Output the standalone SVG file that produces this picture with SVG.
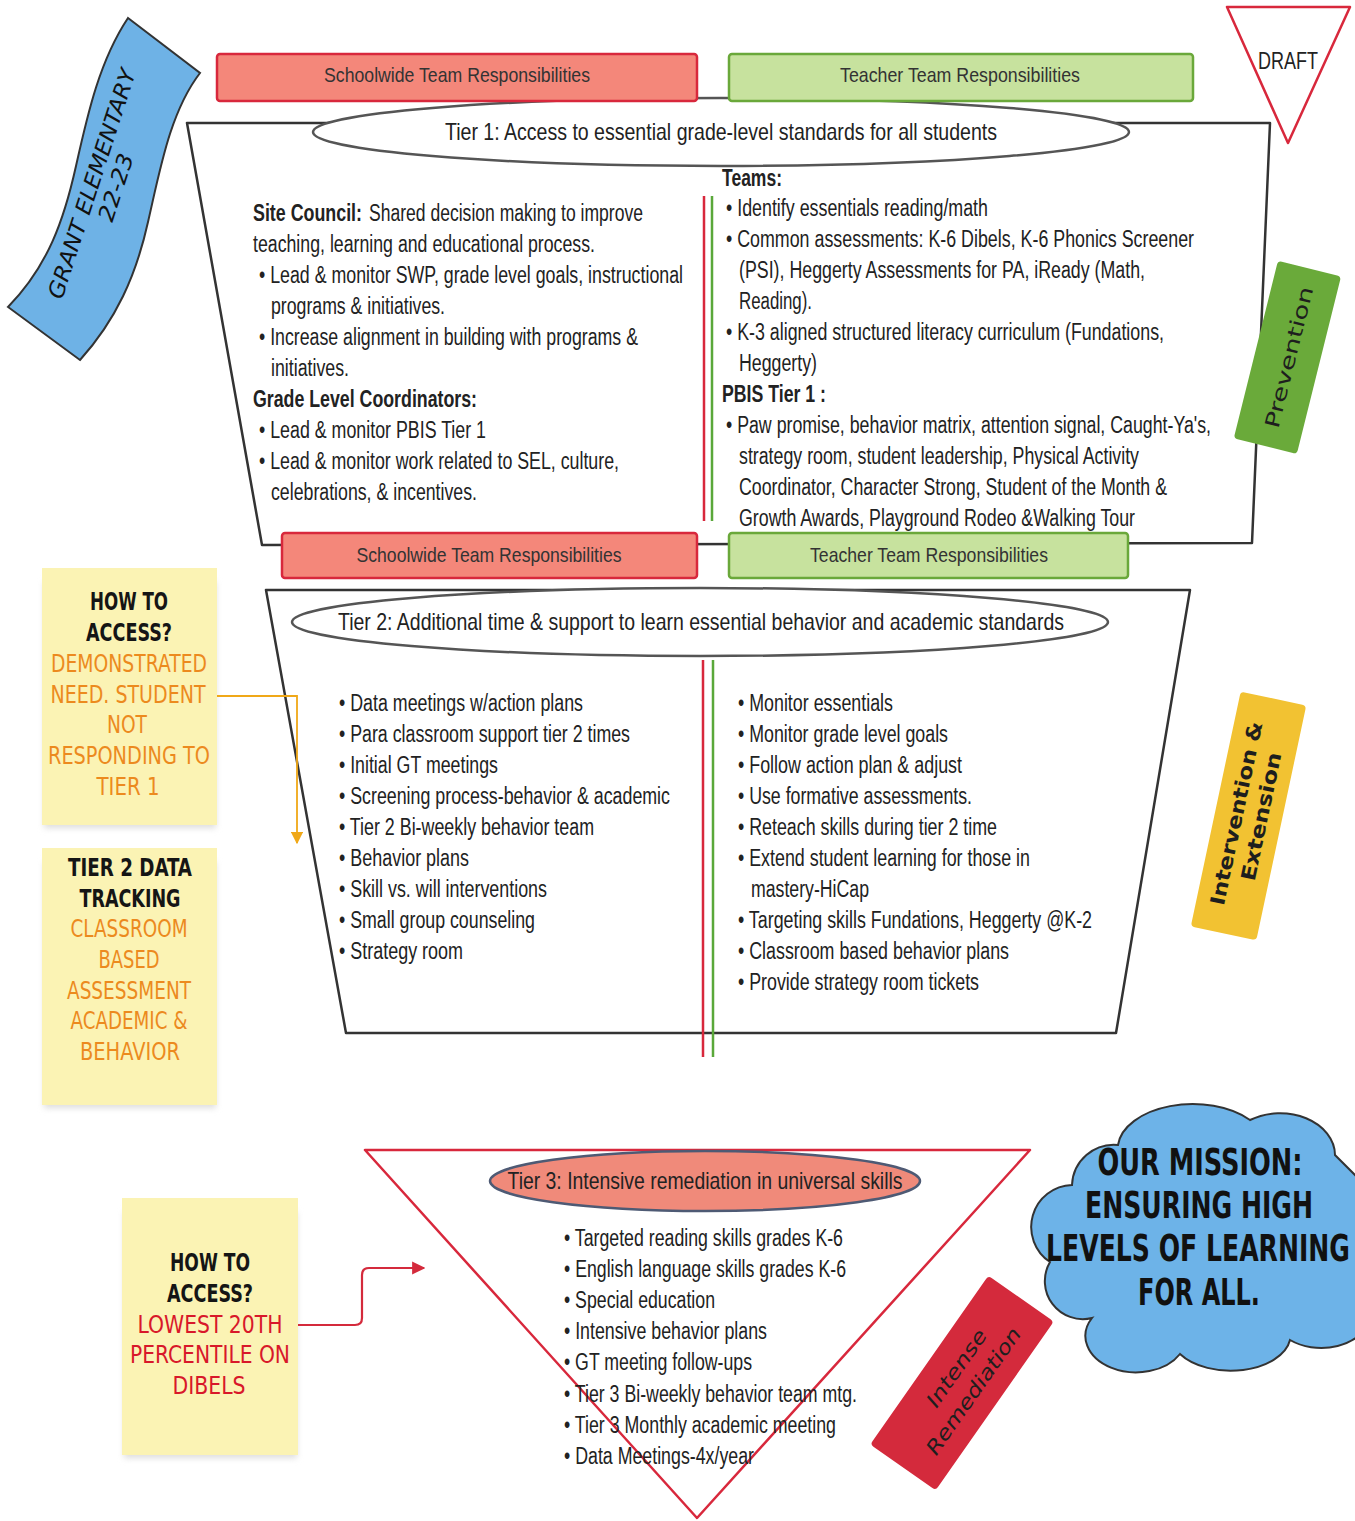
<svg xmlns="http://www.w3.org/2000/svg" width="1355" height="1521" viewBox="0 0 1355 1521">
<defs>
<style>
.t{font-family:"Liberation Sans",Arial,sans-serif;font-size:23px;fill:#222}
.bd{font-weight:bold}
.hd{font-size:24px;text-anchor:middle}
.ban{font-size:21px;text-anchor:middle;fill:#333}
.stk{font-family:"DejaVu Sans Condensed","DejaVu Sans",sans-serif;font-size:25px;font-weight:bold;text-anchor:middle}
.blk{fill:#151515}
.org{fill:#ec8a1e;font-weight:normal}
.rd{fill:#d8182a;font-weight:normal}
.tag{font-family:"DejaVu Sans",Verdana,sans-serif;font-size:20px;fill:#1e1e1e;text-anchor:middle}
.frame{fill:#fff;stroke:#333;stroke-width:2.5;stroke-linejoin:round}
.ell{fill:#fff;stroke:#555;stroke-width:2.5}
.redb{fill:#f4877a;stroke:#d8283c;stroke-width:2.5}
.grnb{fill:#c7e29e;stroke:#6aa83a;stroke-width:2.5}
.note{fill:#fbf3b4}
.vr{stroke:#d8283c;stroke-width:2.5}
.vg{stroke:#5aa83a;stroke-width:2.5}
</style>
<filter id="sh" x="-10%" y="-10%" width="120%" height="130%"><feGaussianBlur stdDeviation="3"/></filter>
<marker id="aO" viewBox="0 0 10 10" refX="9" refY="5" markerWidth="7" markerHeight="7" orient="auto"><path d="M0,0 L10,5 L0,10 Z" fill="#f0a818"/></marker>
<marker id="aR" viewBox="0 0 10 10" refX="9" refY="5" markerWidth="6" markerHeight="6" orient="auto"><path d="M0,0 L10,5 L0,10 Z" fill="#d42a3c"/></marker>
</defs>
<rect width="1355" height="1521" fill="#fff"/>

<g id="grant-banner">
<path d="M128,18 L200,73 C170,112 160,170 148,222 C136,276 116,320 80,360 L8,307 C48,266 64,220 76,166 C88,112 100,60 128,18 Z" fill="#6eb2e6" stroke="#333" stroke-width="2"/>
<g transform="translate(99,186) rotate(-72)" font-family="DejaVu Sans Condensed,DejaVu Sans,sans-serif" font-style="italic" font-size="22" fill="#111" text-anchor="middle">
<text x="0" y="0" textLength="240" lengthAdjust="spacingAndGlyphs">GRANT ELEMENTARY</text>
<text x="4" y="24" textLength="70" lengthAdjust="spacingAndGlyphs">22-23</text>
</g>
</g>

<g id="draft">
<path d="M1227,7 L1350,7 L1288,143 Z" fill="#fff" stroke="#d8283c" stroke-width="2.5" stroke-linejoin="round"/>
<text class="t" x="1288" y="69" text-anchor="middle" font-size="22" textLength="60" lengthAdjust="spacingAndGlyphs">DRAFT</text>
</g>

<g id="tier1">
<path class="frame" d="M187,123 L1270,123 L1252,543 L262,545 Z"/>
<ellipse class="ell" cx="721" cy="132" rx="408" ry="34"/>
<text class="t hd" x="721" y="140" textLength="552" lengthAdjust="spacingAndGlyphs">Tier 1: Access to essential grade-level standards for all students</text>
<line class="vr" x1="704" y1="196" x2="704" y2="521"/>
<line class="vg" x1="712" y1="196" x2="712" y2="521"/>
<text class="t bd" x="253" y="221" textLength="109" lengthAdjust="spacingAndGlyphs">Site Council:</text>
<text class="t" x="369" y="221" textLength="274" lengthAdjust="spacingAndGlyphs">Shared decision making to improve</text>
<text class="t" x="253" y="252" textLength="342" lengthAdjust="spacingAndGlyphs">teaching, learning and educational process.</text>
<text class="t" x="259" y="283" textLength="424" lengthAdjust="spacingAndGlyphs">• Lead &amp; monitor SWP, grade level goals, instructional</text>
<text class="t" x="271" y="314" textLength="174" lengthAdjust="spacingAndGlyphs">programs &amp; initiatives.</text>
<text class="t" x="259" y="345" textLength="379" lengthAdjust="spacingAndGlyphs">• Increase alignment in building with programs &amp;</text>
<text class="t" x="271" y="376" textLength="78" lengthAdjust="spacingAndGlyphs">initiatives.</text>
<text class="t bd" x="253" y="407" textLength="224" lengthAdjust="spacingAndGlyphs">Grade Level Coordinators:</text>
<text class="t" x="259" y="438" textLength="227" lengthAdjust="spacingAndGlyphs">• Lead &amp; monitor PBIS Tier 1</text>
<text class="t" x="259" y="469" textLength="360" lengthAdjust="spacingAndGlyphs">• Lead &amp; monitor work related to SEL, culture,</text>
<text class="t" x="271" y="500" textLength="206" lengthAdjust="spacingAndGlyphs">celebrations, &amp; incentives.</text>
<text class="t bd" x="722" y="186" textLength="60" lengthAdjust="spacingAndGlyphs">Teams:</text>
<text class="t" x="726" y="216" textLength="262" lengthAdjust="spacingAndGlyphs">• Identify essentials reading/math</text>
<text class="t" x="726" y="247" textLength="468" lengthAdjust="spacingAndGlyphs">• Common assessments: K-6 Dibels, K-6 Phonics Screener</text>
<text class="t" x="739" y="278" textLength="406" lengthAdjust="spacingAndGlyphs">(PSI), Heggerty Assessments for PA, iReady (Math,</text>
<text class="t" x="739" y="309" textLength="73" lengthAdjust="spacingAndGlyphs">Reading).</text>
<text class="t" x="726" y="340" textLength="438" lengthAdjust="spacingAndGlyphs">• K-3 aligned structured literacy curriculum (Fundations,</text>
<text class="t" x="739" y="371" textLength="78" lengthAdjust="spacingAndGlyphs">Heggerty)</text>
<text class="t bd" x="722" y="402" textLength="104" lengthAdjust="spacingAndGlyphs">PBIS Tier 1 :</text>
<text class="t" x="726" y="433" textLength="485" lengthAdjust="spacingAndGlyphs">• Paw promise, behavior matrix, attention signal, Caught-Ya's,</text>
<text class="t" x="739" y="464" textLength="400" lengthAdjust="spacingAndGlyphs">strategy room, student leadership, Physical Activity</text>
<text class="t" x="739" y="495" textLength="428" lengthAdjust="spacingAndGlyphs">Coordinator, Character Strong, Student of the Month &amp;</text>
<text class="t" x="739" y="526" textLength="396" lengthAdjust="spacingAndGlyphs">Growth Awards, Playground Rodeo &amp;Walking Tour</text>
</g>

<g id="banners-top">
<rect class="redb" x="217" y="54" width="480" height="47" rx="3"/>
<text class="t ban" x="457" y="82" textLength="266" lengthAdjust="spacingAndGlyphs">Schoolwide Team Responsibilities</text>
<rect class="grnb" x="729" y="54" width="464" height="47" rx="3"/>
<text class="t ban" x="960" y="82" textLength="240" lengthAdjust="spacingAndGlyphs">Teacher Team Responsibilities</text>
</g>

<g id="tier2">
<path class="frame" d="M266,590 L1190,590 L1116,1033 L346,1033 Z"/>
<ellipse class="ell" cx="700" cy="622" rx="408" ry="34"/>
<text class="t hd" x="701" y="630" textLength="726" lengthAdjust="spacingAndGlyphs">Tier 2: Additional time &amp; support to learn essential behavior and academic standards</text>
<line class="vr" x1="703" y1="660" x2="703" y2="1057"/>
<line class="vg" x1="713" y1="660" x2="713" y2="1057"/>
<text class="t" x="339" y="711" textLength="244" lengthAdjust="spacingAndGlyphs">• Data meetings w/action plans</text>
<text class="t" x="339" y="742" textLength="291" lengthAdjust="spacingAndGlyphs">• Para classroom support tier 2 times</text>
<text class="t" x="339" y="773" textLength="159" lengthAdjust="spacingAndGlyphs">• Initial GT meetings</text>
<text class="t" x="339" y="804" textLength="331" lengthAdjust="spacingAndGlyphs">• Screening process-behavior &amp; academic</text>
<text class="t" x="339" y="835" textLength="255" lengthAdjust="spacingAndGlyphs">• Tier 2 Bi-weekly behavior team</text>
<text class="t" x="339" y="866" textLength="130" lengthAdjust="spacingAndGlyphs">• Behavior plans</text>
<text class="t" x="339" y="897" textLength="208" lengthAdjust="spacingAndGlyphs">• Skill vs. will interventions</text>
<text class="t" x="339" y="928" textLength="196" lengthAdjust="spacingAndGlyphs">• Small group counseling</text>
<text class="t" x="339" y="959" textLength="124" lengthAdjust="spacingAndGlyphs">• Strategy room</text>
<text class="t" x="738" y="711" textLength="155" lengthAdjust="spacingAndGlyphs">• Monitor essentials</text>
<text class="t" x="738" y="742" textLength="210" lengthAdjust="spacingAndGlyphs">• Monitor grade level goals</text>
<text class="t" x="738" y="773" textLength="224" lengthAdjust="spacingAndGlyphs">• Follow action plan &amp; adjust</text>
<text class="t" x="738" y="804" textLength="234" lengthAdjust="spacingAndGlyphs">• Use formative assessments.</text>
<text class="t" x="738" y="835" textLength="259" lengthAdjust="spacingAndGlyphs">• Reteach skills during tier 2 time</text>
<text class="t" x="738" y="866" textLength="292" lengthAdjust="spacingAndGlyphs">• Extend student learning for those in</text>
<text class="t" x="751" y="897" textLength="118" lengthAdjust="spacingAndGlyphs">mastery-HiCap</text>
<text class="t" x="738" y="928" textLength="354" lengthAdjust="spacingAndGlyphs">• Targeting skills Fundations, Heggerty @K-2</text>
<text class="t" x="738" y="959" textLength="271" lengthAdjust="spacingAndGlyphs">• Classroom based behavior plans</text>
<text class="t" x="738" y="990" textLength="241" lengthAdjust="spacingAndGlyphs">• Provide strategy room tickets</text>
</g>

<g id="banners-mid">
<rect class="redb" x="282" y="533" width="415" height="45" rx="3"/>
<text class="t ban" x="489" y="562" textLength="265" lengthAdjust="spacingAndGlyphs">Schoolwide Team Responsibilities</text>
<rect class="grnb" x="729" y="533" width="399" height="45" rx="3"/>
<text class="t ban" x="929" y="562" textLength="238" lengthAdjust="spacingAndGlyphs">Teacher Team Responsibilities</text>
</g>

<g id="tier3">
<path d="M365,1150 L1030,1150 L697,1518 Z" fill="none" stroke="#d8283c" stroke-width="2.5" stroke-linejoin="round"/>
<ellipse cx="705" cy="1181" rx="215" ry="30" fill="#f08a7a" stroke="#4e5a74" stroke-width="2.5"/>
<text class="t hd" x="705" y="1189" textLength="395" lengthAdjust="spacingAndGlyphs">Tier 3: Intensive remediation in universal skills</text>
<text class="t" x="564" y="1246" textLength="279" lengthAdjust="spacingAndGlyphs">• Targeted reading skills grades K-6</text>
<text class="t" x="564" y="1277" textLength="282" lengthAdjust="spacingAndGlyphs">• English language skills grades K-6</text>
<text class="t" x="564" y="1308" textLength="151" lengthAdjust="spacingAndGlyphs">• Special education</text>
<text class="t" x="564" y="1339" textLength="203" lengthAdjust="spacingAndGlyphs">• Intensive behavior plans</text>
<text class="t" x="564" y="1370" textLength="188" lengthAdjust="spacingAndGlyphs">• GT meeting follow-ups</text>
<text class="t" x="564" y="1402" textLength="293" lengthAdjust="spacingAndGlyphs">• Tier 3 Bi-weekly behavior team mtg.</text>
<text class="t" x="564" y="1433" textLength="272" lengthAdjust="spacingAndGlyphs">• Tier 3 Monthly academic meeting</text>
<text class="t" x="564" y="1464" textLength="190" lengthAdjust="spacingAndGlyphs">• Data Meetings-4x/year</text>
</g>

<g id="note-access-t2">
<rect x="44" y="582" width="172" height="246" fill="#ddd" filter="url(#sh)"/>
<rect class="note" x="42" y="568" width="175" height="257"/>
<text class="stk blk" x="129" y="610" textLength="78" lengthAdjust="spacingAndGlyphs">HOW TO</text>
<text class="stk blk" x="129" y="641" textLength="86" lengthAdjust="spacingAndGlyphs">ACCESS?</text>
<text class="stk org" x="129" y="672" textLength="156" lengthAdjust="spacingAndGlyphs">DEMONSTRATED</text>
<text class="stk org" x="128" y="703" textLength="155" lengthAdjust="spacingAndGlyphs">NEED.  STUDENT</text>
<text class="stk org" x="127" y="733" textLength="40" lengthAdjust="spacingAndGlyphs">NOT</text>
<text class="stk org" x="129" y="764" textLength="162" lengthAdjust="spacingAndGlyphs">RESPONDING TO</text>
<text class="stk org" x="128" y="795" textLength="63" lengthAdjust="spacingAndGlyphs">TIER 1</text>
</g>

<g id="note-tracking-t2">
<rect x="44" y="862" width="172" height="246" fill="#ddd" filter="url(#sh)"/>
<rect class="note" x="42" y="848" width="175" height="257"/>
<text class="stk blk" x="130" y="876" textLength="124" lengthAdjust="spacingAndGlyphs">TIER 2 DATA</text>
<text class="stk blk" x="130" y="907" textLength="101" lengthAdjust="spacingAndGlyphs">TRACKING</text>
<text class="stk org" x="129" y="937" textLength="117" lengthAdjust="spacingAndGlyphs">CLASSROOM</text>
<text class="stk org" x="129" y="968" textLength="61" lengthAdjust="spacingAndGlyphs">BASED</text>
<text class="stk org" x="129" y="999" textLength="124" lengthAdjust="spacingAndGlyphs">ASSESSMENT</text>
<text class="stk org" x="129" y="1029" textLength="117" lengthAdjust="spacingAndGlyphs">ACADEMIC &amp;</text>
<text class="stk org" x="130" y="1060" textLength="100" lengthAdjust="spacingAndGlyphs">BEHAVIOR</text>
</g>

<g id="note-access-t3">
<rect x="124" y="1212" width="173" height="246" fill="#ddd" filter="url(#sh)"/>
<rect class="note" x="122" y="1198" width="176" height="257"/>
<text class="stk blk" x="210" y="1271" textLength="80" lengthAdjust="spacingAndGlyphs">HOW TO</text>
<text class="stk blk" x="210" y="1302" textLength="86" lengthAdjust="spacingAndGlyphs">ACCESS?</text>
<text class="stk rd" x="210" y="1333" textLength="145" lengthAdjust="spacingAndGlyphs">LOWEST 20TH</text>
<text class="stk rd" x="210" y="1363" textLength="160" lengthAdjust="spacingAndGlyphs">PERCENTILE ON</text>
<text class="stk rd" x="209" y="1394" textLength="73" lengthAdjust="spacingAndGlyphs">DIBELS</text>
</g>

<g id="tag-prevention" transform="translate(1288,357) rotate(-76)">
<rect x="-92" y="-33" width="183" height="65" rx="4" fill="#6aaa3a"/>
<text class="tag" x="0" y="8" font-size="22" textLength="145" lengthAdjust="spacingAndGlyphs">Prevention</text>
</g>

<g id="tag-intervention" transform="translate(1249,816) rotate(-78)">
<rect x="-120" y="-34" width="240" height="67" rx="4" fill="#f2c232"/>
<text class="tag" x="0" y="-6" font-weight="bold" textLength="187" lengthAdjust="spacingAndGlyphs">Intervention &amp;</text>
<text class="tag" x="2" y="19" font-weight="bold" textLength="131" lengthAdjust="spacingAndGlyphs">Extension</text>
</g>

<g id="tag-remediation" transform="translate(962,1383) rotate(-55)">
<rect x="-103" y="-40" width="206" height="80" rx="4" fill="#d42a3c"/>
<text class="tag" x="9" y="-6" font-style="italic" textLength="90" lengthAdjust="spacingAndGlyphs">Intense</text>
<text class="tag" x="0" y="21" font-style="italic" textLength="150" lengthAdjust="spacingAndGlyphs">Remediation</text>
</g>

<g id="mission-cloud">
<path d="M1072,1185 A42,42 0 0 1 1118,1145 A75,45 0 0 1 1250,1120 A55,42 0 0 1 1335,1155 L1370,1190 L1370,1320 A50,36 0 0 1 1290,1340 A60,36 0 0 1 1180,1354 A50,36 0 0 1 1092,1318 A38,38 0 0 1 1050,1262 A42,42 0 0 1 1072,1185 Z" fill="#6db3e8" stroke="#333" stroke-width="2"/>
<g font-family="DejaVu Sans Condensed,DejaVu Sans,sans-serif" font-weight="bold" font-size="37" fill="#111" text-anchor="middle">
<text x="1200" y="1175" textLength="205" lengthAdjust="spacingAndGlyphs">OUR MISSION:</text>
<text x="1199" y="1218" textLength="228" lengthAdjust="spacingAndGlyphs">ENSURING HIGH</text>
<text x="1198" y="1261" textLength="304" lengthAdjust="spacingAndGlyphs">LEVELS OF LEARNING</text>
<text x="1199" y="1305" textLength="122" lengthAdjust="spacingAndGlyphs">FOR ALL.</text>
</g>
</g>

<g id="connectors" fill="none">
<path d="M217,696 L297,696 L297,843" stroke="#f0a818" stroke-width="1.8" marker-end="url(#aO)"/>
<path d="M298,1325 L355,1325 Q362,1325 362,1318 L362,1275 Q362,1268 369,1268 L424,1268" stroke="#d42a3c" stroke-width="2.2" marker-end="url(#aR)"/>
</g>
</svg>
